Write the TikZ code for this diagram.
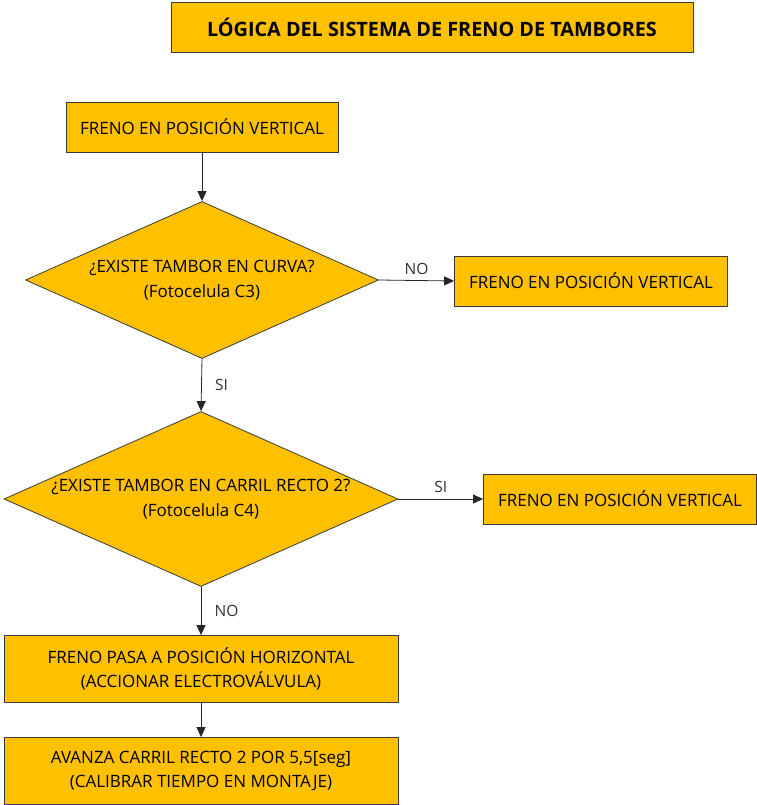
\documentclass[tikz,border=0pt]{standalone}
\usepackage{fontspec}
\setmainfont{Open Sans}
\usetikzlibrary{shapes.geometric,arrows.meta}

\definecolor{oro}{HTML}{FFC000}
\definecolor{borde}{HTML}{3A3A3A}

\begin{document}
\begin{tikzpicture}[x=1pt, y=-1pt,
    caja/.style={draw=borde, fill=oro, line width=0.8pt, align=center, inner sep=0pt,
                 font=\fontsize{17}{24.5}\selectfont},
    rombo/.style={diamond, aspect=2.25, draw=borde, fill=oro, line width=0.8pt, align=center,
                  inner sep=-8pt, font=\fontsize{17}{24.5}\selectfont},
    flecha/.style={draw=black!85, line width=0.8pt, -{Triangle[length=10pt,width=9pt]}},
    etiqueta/.style={font=\fontsize{15.5}{18}\selectfont, text=black!80}]
    \useasboundingbox (0,0) rectangle (756,805);

    % Titulo
    \node[caja, minimum width=522pt, minimum height=50pt,
          font=\bfseries\fontsize{19.8}{22}\selectfont] (titulo) at (432,27)
        {LÓGICA DEL SISTEMA DE FRENO DE TAMBORES};

    % Pasos del diagrama
    \node[caja, minimum width=272pt, minimum height=50pt] (inicio) at (202,127)
        {FRENO EN POSICIÓN VERTICAL};
    \node[rombo, minimum width=353pt, minimum height=157pt] (curva) at (202,280)
        {¿EXISTE TAMBOR EN CURVA?\\(Fotocelula C3)};
    \node[caja, minimum width=273pt, minimum height=50pt] (vertA) at (591,281)
        {FRENO EN POSICIÓN VERTICAL};
    \node[rombo, minimum width=394pt, minimum height=175pt] (recto) at (201,499)
        {¿EXISTE TAMBOR EN CARRIL RECTO 2?\\(Fotocelula C4)};
    \node[caja, minimum width=273pt, minimum height=50pt] (vertB) at (620,499)
        {FRENO EN POSICIÓN VERTICAL};
    \node[caja, minimum width=394pt, minimum height=67pt] (horiz) at (201,669)
        {FRENO PASA A POSICIÓN HORIZONTAL\\(ACCIONAR ELECTROVÁLVULA)};
    \node[caja, minimum width=394pt, minimum height=67pt] (avanza) at (201,771)
        {AVANZA CARRIL RECTO 2 POR 5,5[seg]\\(CALIBRAR TIEMPO EN MONTAJE)};

    % Conexiones
    \draw[flecha] (inicio) -- (curva);
    \draw[flecha] (curva.east) -- node[etiqueta, above=2pt] {NO} (vertA.west);
    \draw[flecha] (curva.south) -- node[etiqueta, right=10pt] {SI} (recto.north);
    \draw[flecha] (recto.east) -- node[etiqueta, above=3pt] {SI} (vertB.west);
    \draw[flecha] (recto.south) -- node[etiqueta, right=10pt] {NO} (horiz.north);
    \draw[flecha] (horiz) -- (avanza);
\end{tikzpicture}
\end{document}
